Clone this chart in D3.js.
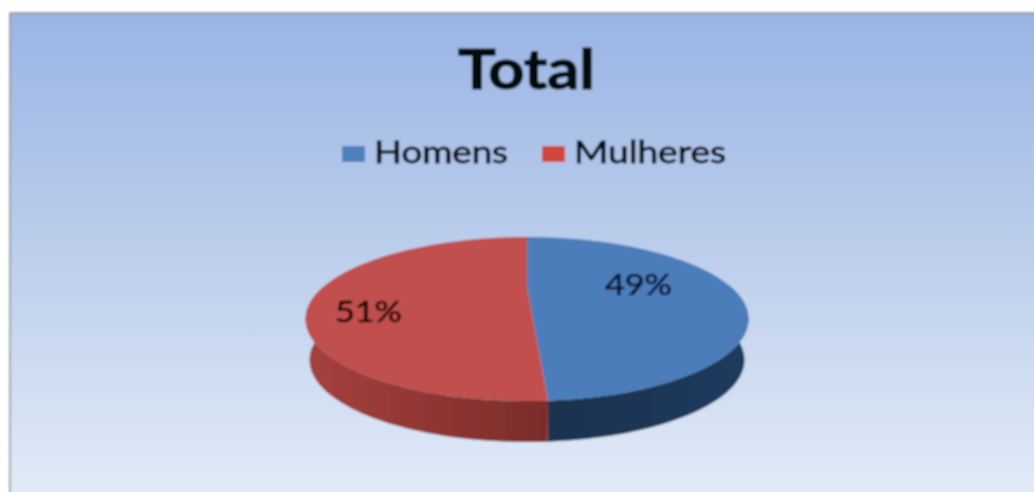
<!DOCTYPE html>
<html><head><meta charset="utf-8">
<script src="https://cdn.jsdelivr.net/npm/d3@7"></script>
<style>html,body{margin:0;padding:0;background:#fff;overflow:hidden}svg{display:block}text{font-family:Lato,"Open Sans",sans-serif}</style>
</head><body><svg id="c" width="1034" height="492"></svg>
<script>
const categories = ["Homens", "Mulheres"];
const values = [49, 51];
const labels = ["49%", "51%"];
const title = "Total";
const topColors = ["#4c7dbb", "#c0504d"];
const wallColors = [["#1f3b5e", "#1c3250"], ["#a5413e", "#7b2c2a"]];
const legendColors = ["#4f81bd", "#d0473f"];

const W = 1034, H = 492;
const svg = d3.select("#c");
const defs = svg.append("defs");
const bg = defs.append("linearGradient").attr("id","bg").attr("x1",0).attr("y1",0).attr("x2",0).attr("y2",1);
bg.append("stop").attr("offset",0).attr("stop-color","#9ab4e4");
bg.append("stop").attr("offset",0.5).attr("stop-color","#bdcfec");
bg.append("stop").attr("offset",1).attr("stop-color","#e4ecf8");
defs.append("filter").attr("id","soft").attr("x","-5%").attr("y","-5%").attr("width","110%").attr("height","110%")
  .append("feGaussianBlur").attr("stdDeviation",0.85);

const root = svg.append("g").attr("filter","url(#soft)");
root.append("rect").attr("x",10).attr("y",13).attr("width",W).attr("height",H).attr("fill","url(#bg)").attr("stroke","#8f9499").attr("stroke-width",1.6);

root.append("text").attr("x",458).attr("y",89).attr("font-size",55).attr("font-weight",700).attr("fill","#05070f")
  .attr("stroke","#05070f").attr("stroke-width",1.1)
  .attr("textLength",137).attr("lengthAdjust","spacingAndGlyphs").text(title);

// legend
const legendX = [342, 542], legendText = [374, 574], legendLen = [134, 152];
categories.forEach((c,i)=>{
  root.append("rect").attr("x",legendX[i]).attr("y",146).attr("width",23).attr("height",16).attr("fill",legendColors[i]);
  root.append("text").attr("x",legendText[i]).attr("y",163).attr("font-size",30).attr("fill","#050814")
    .attr("stroke","#050814").attr("stroke-width",0.8)
    .attr("textLength",legendLen[i]).attr("lengthAdjust","spacingAndGlyphs").text(c);
});

// perspective pie
const k = 0.39, rx = 221.5, ry = 82, cx = 527, cy = 319, depth = 41;
const R = rx*Math.sqrt(1-k*k), A = ry*(1-k*k), y0 = cy-ry*k;
function proj(a, dz, shrink){
  const u = Math.sin(a), v = -Math.cos(a), d = 1-k*v, s = shrink||1;
  return [cx + s*R*u/d, y0 + A*v/d + dz];
}
const arcs = d3.pie().sort(null).startAngle(0).endAngle(2*Math.PI)(values);
const line = d3.line();
const frontEdge = Math.PI/2;

// walls: visible front half of the rim
const wallGroup = root.append("g");
arcs.forEach((d,i)=>{
  const a0 = Math.max(d.startAngle, frontEdge), a1 = Math.min(d.endAngle, 3*frontEdge);
  if (a1<=a0) return;
  const ts = d3.range(0,61).map(t=>a0+(a1-a0)*t/60);
  const top = ts.map(a=>proj(a,0));
  const bot = ts.slice().reverse().map(a=>proj(a,depth,0.982));
  const xs = top.map(p=>p[0]);
  const gid = "wall"+i;
  const g = defs.append("linearGradient").attr("id",gid).attr("gradientUnits","userSpaceOnUse")
    .attr("x1",d3.min(xs)).attr("x2",d3.max(xs)).attr("y1",0).attr("y2",0);
  g.append("stop").attr("offset",0).attr("stop-color", i===0?wallColors[0][1]:wallColors[1][0]);
  g.append("stop").attr("offset",1).attr("stop-color", i===0?wallColors[0][0]:wallColors[1][1]);
  wallGroup.append("path").attr("d",line(top.concat(bot))+"Z").attr("fill",`url(#${gid})`);
});

// top faces
const centre = [cx, y0];
arcs.forEach((d,i)=>{
  const ts = d3.range(0,121).map(t=>d.startAngle+(d.endAngle-d.startAngle)*t/120);
  const pts = [centre].concat(ts.map(a=>proj(a,0)));
  root.append("path").attr("d",line(pts)+"Z").attr("fill",topColors[i]);
});

const labelPos = [[605,295],[335,322]];
labels.forEach((l,i)=>{
  const col = i===0?"#081433":"#240606";
  root.append("text").attr("x",labelPos[i][0]).attr("y",labelPos[i][1]).attr("font-size",28).attr("fill",col)
    .attr("stroke",col).attr("stroke-width",0.7)
    .attr("textLength",67).attr("lengthAdjust","spacingAndGlyphs").text(l);
});
</script></body></html>
